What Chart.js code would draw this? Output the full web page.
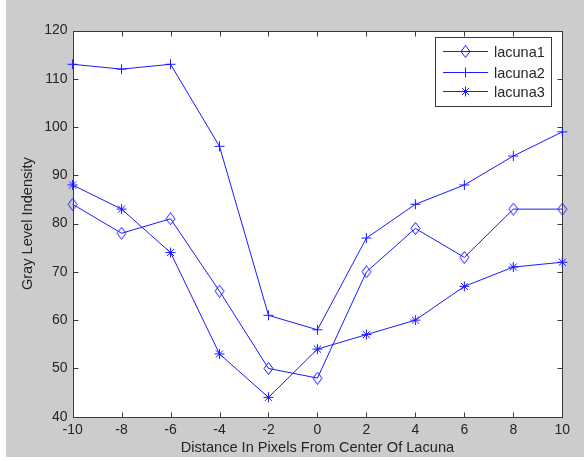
<!DOCTYPE html>
<html><head><meta charset="utf-8">
<script src="https://cdn.jsdelivr.net/npm/chart.js@4"></script>
<style>
html,body{margin:0;padding:0;background:#fff;overflow:hidden;}
#bg{position:absolute;left:6px;top:0;width:578px;height:457px;background:#cccccc;}
#wrap{position:absolute;left:0;top:0;width:584px;height:461px;}
</style></head><body>
<div id="bg"></div>
<div id="wrap"><canvas id="c" width="584" height="461"></canvas></div>
<script>
const xValues = [-10,-8,-6,-4,-2,0,2,4,6,8,10];
const lacuna1 = [84,78,81,66,50,48,70,79,73,83,83];
const lacuna2 = [113,112,113,96,61,58,77,84,88,94,99];
const lacuna3 = [88,83,74,53,44,54,57,60,67,71,72];
const seriesLabels = ['lacuna1','lacuna2','lacuna3'];
const xTitle = 'Distance In Pixels From Center Of Lacuna';
const yTitle = 'Gray Level Indensity';
const xTicks = {min:-10, max:10, step:2};
const yTicks = {min:40, max:120, step:10};

const FONT = "'Liberation Sans', Arial, sans-serif";
const BLUE = '#1a1aff';
const AXIS = '#3a3a3a';
const TEXT = '#262626';

function diamondImg(){
  const c = document.createElement('canvas');
  c.width = 11; c.height = 13;
  const g = c.getContext('2d');
  g.strokeStyle = BLUE; g.lineWidth = 1;
  g.beginPath();
  g.moveTo(5.5,0.5); g.lineTo(10,6.5); g.lineTo(5.5,12.5); g.lineTo(1,6.5); g.closePath();
  g.stroke();
  return c;
}
const diamond = diamondImg();

function toPts(arr){ return xValues.map((x,i)=>({x:x, y:arr[i]})); }

const styles = [
  {pointStyle: diamond, pointRadius: 5},
  {pointStyle: 'cross', pointRadius: 5},
  {pointStyle: 'star', pointRadius: 5}
];
const seriesData = [lacuna1, lacuna2, lacuna3];

const datasets = seriesData.map((d,i)=>({
  label: seriesLabels[i],
  data: toPts(d),
  borderColor: BLUE,
  backgroundColor: 'transparent',
  borderWidth: 1,
  pointBorderColor: BLUE,
  pointBackgroundColor: 'transparent',
  pointBorderWidth: 1,
  pointStyle: styles[i].pointStyle,
  pointRadius: styles[i].pointRadius,
  pointHoverRadius: styles[i].pointRadius,
  tension: 0,
  clip: false
}));

const boxPlugin = {
  id: 'box',
  beforeDatasetsDraw(chart){
    const {ctx, chartArea:a, scales} = chart;
    const L = Math.round(a.left)+0.5, R = Math.round(a.right)+0.5, T = Math.round(a.top)+0.5, B = Math.round(a.bottom)+0.5;
    ctx.save();
    ctx.fillStyle = '#ffffff';
    ctx.fillRect(L, T, R-L, B-T);
    ctx.strokeStyle = AXIS; ctx.lineWidth = 1;
    ctx.strokeRect(L, T, R-L, B-T);
    const tl = 5;
    ctx.beginPath();
    scales.x.ticks.forEach(t=>{
      const px = Math.round(scales.x.getPixelForValue(t.value))+0.5;
      ctx.moveTo(px, B); ctx.lineTo(px, B-tl);
      ctx.moveTo(px, T); ctx.lineTo(px, T+tl);
    });
    scales.y.ticks.forEach(t=>{
      const py = Math.round(scales.y.getPixelForValue(t.value))+0.5;
      ctx.moveTo(L, py); ctx.lineTo(L+tl, py);
      ctx.moveTo(R, py); ctx.lineTo(R-tl, py);
    });
    ctx.stroke();
    ctx.restore();
  },
  afterDraw(chart){
    const ctx = chart.ctx;
    const bx = 435.5, by = 37.5, bw = 116, bh = 69;
    ctx.save();
    ctx.fillStyle = '#ffffff';
    ctx.fillRect(bx, by, bw, bh);
    ctx.strokeStyle = AXIS; ctx.lineWidth = 1;
    ctx.strokeRect(bx, by, bw, bh);
    const rows = [51.5, 72.5, 91.5];
    chart.data.datasets.forEach((ds,i)=>{
      const y = rows[i];
      ctx.strokeStyle = BLUE; ctx.lineWidth = 1;
      ctx.beginPath(); ctx.moveTo(443, y); ctx.lineTo(488, y); ctx.stroke();
      Chart.helpers.drawPoint(ctx, {pointStyle: ds.pointStyle, radius: ds.pointRadius, borderWidth: 1, rotation: 0}, 465.5, y);
      ctx.fillStyle = TEXT;
      ctx.font = '14.5px ' + FONT;
      ctx.textBaseline = 'middle';
      ctx.textAlign = 'left';
      ctx.fillText(ds.label, 494, y+1);
    });
    ctx.restore();
  }
};

new Chart(document.getElementById('c'), {
  type: 'line',
  data: {datasets},
  options: {
    responsive: false,
    animation: false,
    devicePixelRatio: 1,
    layout: {padding: {left: 0, top: 30.5, right: 21.7, bottom: 0}},
    plugins: {legend: {display: false}, tooltip: {enabled: false}},
    scales: {
      x: {
        type: 'linear', min: xTicks.min, max: xTicks.max,
        ticks: {stepSize: xTicks.step, color: TEXT, font: {family: FONT, size: 14}, padding: 5, maxRotation: 0},
        grid: {display: false, drawTicks: false},
        border: {display: false},
        title: {display: true, text: xTitle, color: TEXT, font: {family: FONT, size: 14.6}, padding: {top: 0, bottom: 4.4}},
        afterFit(s){ s.height = 44.3; }
      },
      y: {
        type: 'linear', min: yTicks.min, max: yTicks.max,
        ticks: {stepSize: yTicks.step, color: TEXT, font: {family: FONT, size: 14}, padding: 5},
        grid: {display: false, drawTicks: false},
        border: {display: false},
        title: {display: true, text: yTitle, color: TEXT, font: {family: FONT, size: 14.6}, padding: {top: 19.3, bottom: 0}},
        afterFit(s){ s.width = 72.6; }
      }
    }
  },
  plugins: [boxPlugin]
});
</script>
</body></html>
